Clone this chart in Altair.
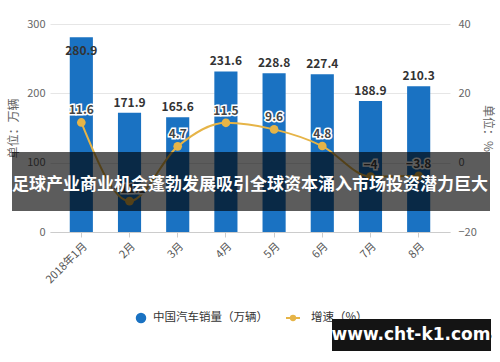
import altair as alt
import pandas as pd

# China monthly auto sales (10k units) and year-on-year growth (%)
months = ["2018年1月", "2月", "3月", "4月", "5月", "6月", "7月", "8月"]
sales = [280.9, 171.9, 165.6, 231.6, 228.8, 227.4, 188.9, 210.3]
growth = [11.6, -11.1, 4.7, 11.5, 9.6, 4.8, -4, -3.8]

banner_title = "足球产业商业机会蓬勃发展吸引全球资本涌入市场投资潜力巨大"
site_text = "www.cht-k1.com"
source_text = "@前瞻经济学人APP"
legend_sales = "中国汽车销量（万辆）"
legend_growth = "增速（%）"

FONT = "Noto Sans CJK SC"
BLUE = "#1a72c2"
GOLD = "#e6b447"

df = pd.DataFrame({"month": months, "sales": sales, "growth": growth})
one = alt.Chart(pd.DataFrame({"k": [0]}))

x = alt.X(
    "month:N",
    sort=months,
    scale=alt.Scale(paddingInner=0.52, paddingOuter=0.41),
    axis=alt.Axis(
        title=None, labelAngle=-45, labelFontSize=11, labelColor="#555",
        labelFont=FONT, domainColor="#cccccc", tickColor="#cccccc",
        tickSize=5, labelPadding=3,
    ),
)

y_sales = alt.Y(
    "sales:Q",
    scale=alt.Scale(domain=[0, 300]),
    axis=alt.Axis(
        values=[0, 100, 200, 300], title="单位：万辆", ticks=False, domain=False,
        gridColor="#e6e6e6", labelColor="#666", labelFontSize=11, labelFont=FONT,
        labelPadding=5, titleFont=FONT, titleFontSize=12, titleColor="#666",
        titleFontWeight="normal", titlePadding=6,
    ),
)

y_growth = alt.Y(
    "growth:Q",
    scale=alt.Scale(domain=[-20, 40]),
    axis=alt.Axis(
        orient="right", values=[-20, 0, 20, 40], grid=False, title="单位：%",
        ticks=False, domain=False, labelColor="#666", labelFontSize=11,
        labelFont=FONT, labelPadding=8, titleFont=FONT, titleFontSize=12,
        titleColor="#666", titleFontWeight="normal", titlePadding=4,
    ),
)

base = alt.Chart(df)

# ---- bars (left axis) ----
bars = base.mark_bar(color=BLUE).encode(x=x, y=y_sales)

bar_text = dict(font=FONT, fontSize=12, fontWeight="bold", color="#333", baseline="middle")
# labels sit above each bar; the tallest bar carries its label just inside the top
labels_above = base.transform_filter("datum.sales <= 260").mark_text(dy=-10, **bar_text).encode(
    x=x, y=y_sales, text=alt.Text("sales:Q", format=".1f")
)
labels_inside = base.transform_filter("datum.sales > 260").mark_text(dy=14, **bar_text).encode(
    x=x, y=y_sales, text=alt.Text("sales:Q", format=".1f")
)

sales_group = alt.layer(bars, labels_above, labels_inside)

# ---- growth line (right axis) ----
line = base.mark_line(color=GOLD, strokeWidth=2, interpolate="monotone").encode(x=x, y=y_growth)
points = base.mark_point(filled=True, size=75, color=GOLD, opacity=1).encode(x=x, y=y_growth)

label_style = dict(font=FONT, fontSize=12, fontWeight="bold", dy=-12, baseline="middle")
growth_halo = base.mark_text(color="white", stroke="white", strokeWidth=3, **label_style).encode(
    x=x, y=y_growth, text=alt.Text("growth:Q")
)
growth_labels = base.mark_text(color="#444", **label_style).encode(
    x=x, y=y_growth, text=alt.Text("growth:Q")
)

# ---- legend ----
leg_dot = one.mark_point(shape="circle", filled=True, size=110, color=BLUE, opacity=1).encode(
    x=alt.value(91), y=alt.value(294)
)
leg_sales = one.mark_text(text=legend_sales, font=FONT, fontSize=11.5, color="#333", align="left", baseline="middle").encode(
    x=alt.value(103), y=alt.value(294)
)
leg_line = one.mark_rule(color=GOLD, strokeWidth=2).encode(
    x=alt.value(236), x2=alt.value(250), y=alt.value(294)
)
leg_pt = one.mark_point(shape="circle", filled=True, size=40, color=GOLD, opacity=1).encode(
    x=alt.value(243), y=alt.value(294)
)
leg_growth = one.mark_text(text=legend_growth, font=FONT, fontSize=11.5, color="#333", align="left", baseline="middle").encode(
    x=alt.value(261), y=alt.value(294)
)

# ---- banner across the middle ----
banner = one.mark_rect(color="black", opacity=0.64).encode(
    x=alt.value(-38), x2=alt.value(440), y=alt.value(128), y2=alt.value(187)
)
banner_txt = one.mark_text(
    text=banner_title, font=FONT, fontSize=17, fontWeight="bold", color="white",
    align="center", baseline="middle",
).encode(x=alt.value(200), y=alt.value(161))

# ---- source note and site box ----
source = one.mark_text(text=source_text, font=FONT, fontSize=12, color="#666", align="right", baseline="middle").encode(
    x=alt.value(442), y=alt.value(315)
)
site_box = one.mark_rect(color="#141414").encode(
    x=alt.value(282), x2=alt.value(441), y=alt.value(295), y2=alt.value(327)
)
site_txt = one.mark_text(
    text=site_text, font="DejaVu Sans", fontSize=17, fontWeight="bold", color="white",
    align="center", baseline="middle",
).encode(x=alt.value(361), y=alt.value(311))

growth_group = alt.layer(
    line, points, growth_halo, growth_labels,
    leg_dot, leg_sales, leg_line, leg_pt, leg_growth,
    banner, banner_txt, source, site_box, site_txt,
)

chart = (
    alt.layer(sales_group, growth_group)
    .resolve_scale(y="independent")
    .properties(
        width=400,
        height=208,
        autosize=alt.AutoSizeParams(type="none"),
        padding={"left": 50, "top": 24, "right": 50, "bottom": 130},
        background="white",
    )
    .configure_view(stroke=None)
)

chart.save("out.html", embed_options={"renderer": "svg", "actions": False})
